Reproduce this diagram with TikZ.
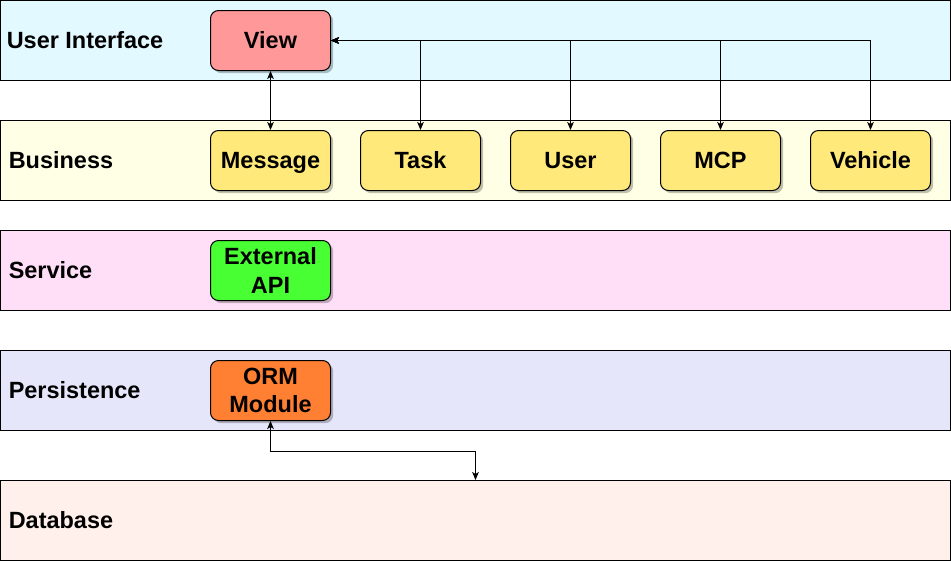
\documentclass[tikz,border=0pt]{standalone}
\usepackage{fontspec}
\setmainfont{Liberation Sans}
\usepackage{tikz}
\usetikzlibrary{positioning,arrows.meta,shadows}

\definecolor{uifill}{HTML}{E1F9FF}
\definecolor{busfill}{HTML}{FFFFE6}
\definecolor{srvfill}{HTML}{FFDFF8}
\definecolor{perfill}{HTML}{E6E6FA}
\definecolor{dbfill}{HTML}{FFF0EC}
\definecolor{viewfill}{HTML}{FF9999}
\definecolor{modfill}{HTML}{FFE97A}
\definecolor{apifill}{HTML}{47FF33}
\definecolor{ormfill}{HTML}{FF8033}

\begin{document}
\begin{tikzpicture}[
x=0.75pt, y=-0.75pt,
layer/.style={rectangle, draw=black, line width=0.75pt, minimum width=712.5pt, minimum height=60pt, inner sep=0pt},
lbl/.style={anchor=west, inner sep=0pt, font=\fontsize{17.6}{21}\selectfont\bfseries},
box/.style={rectangle, rounded corners=6pt, draw=black, line width=0.75pt, fill=modfill, minimum width=90pt, minimum height=45pt, inner sep=0pt, align=center, font=\fontsize{17.6}{21.5}\selectfont\bfseries, drop shadow={shadow xshift=2pt, shadow yshift=-2pt, fill=black, opacity=0.25}},
onebox/.style={box, text height=12.6pt, text depth=0pt},
arr/.style={line width=0.75pt, {Stealth[length=6pt,width=5pt,inset=1.5pt]}-{Stealth[length=6pt,width=5pt,inset=1.5pt]}}
]
\useasboundingbox (-0.5,-0.5) rectangle (950.5,560.5);
%Layers
\node[layer, fill=uifill]    (ui)  at (475,40)  {};
\node[layer, fill=busfill]   (bus) at (475,160) {};
\node[layer, fill=srvfill]   (srv) at (475,270) {};
\node[layer, fill=perfill]   (per) at (475,390) {};
\node[layer, fill=dbfill]    (db)  at (475,520) {};
%Layer names
\node[lbl] (uilbl)  at (6,40)  {User Interface};
\node[lbl] (buslbl) at (8,160) {Business};
\node[lbl] (srvlbl) at (8,270) {Service};
\node[lbl] (perlbl) at (8,390) {Persistence};
\node[lbl] (dblbl)  at (8,520) {Database};
%Nodes
\node[onebox, fill=viewfill] (view)    at (270,40)               {View};
\node[onebox]                (message) at (270,160)              {Message};
\node[onebox]                (task)    [right=21.75pt of message] {Task};
\node[onebox]                (user)    [right=21.75pt of task]    {User};
\node[onebox]                (mcp)     [right=21.75pt of user]    {MCP};
\node[onebox]                (vehicle) [right=21.75pt of mcp]     {Vehicle};
\node[box, fill=apifill]     (api)     at (270,270)              {External\\API};
\node[box, fill=ormfill]     (orm)     at (270,390)              {ORM\\Module};
%Lines
\draw[arr] (view) -- (message);
\draw[arr] (view.east) -| (vehicle.north);
\draw[arr] (view.east) -| (mcp.north);
\draw[arr] (view.east) -| (user.north);
\draw[arr] (view.east) -| (task.north);
\draw[arr] (orm.south) -- ++(0,30) -| (db.north);
\end{tikzpicture}
\end{document}
